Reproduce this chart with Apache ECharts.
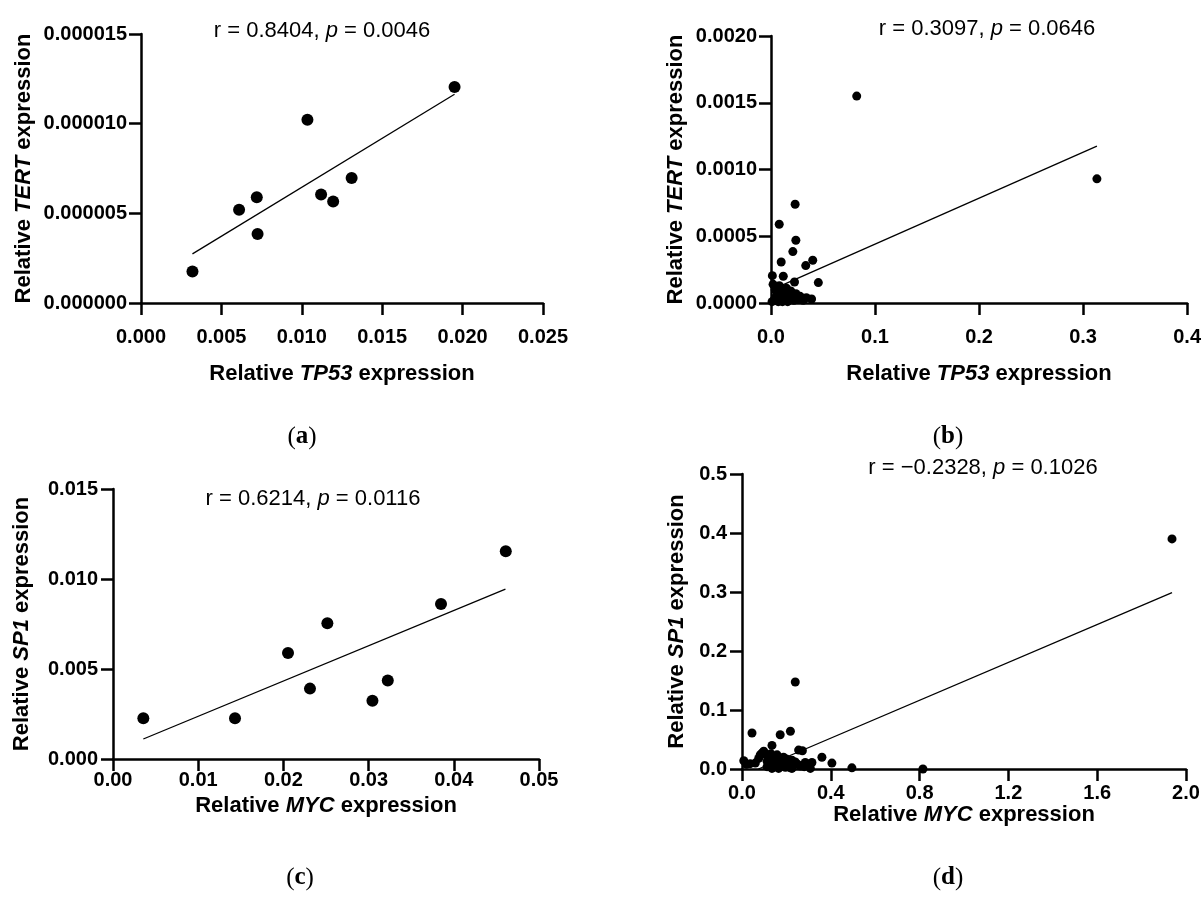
<!DOCTYPE html>
<html><head><meta charset="utf-8">
<script src="https://cdn.jsdelivr.net/npm/echarts@6/dist/echarts.min.js"></script>
<style>html,body{margin:0;padding:0;background:#fff}#c{width:1204px;height:907px}</style>
</head><body><div id="c"></div>
<script>
// ---- Panel (a): TP53 vs TERT (small set)
const aTP53 = [0.0032, 0.0061, 0.0072, 0.00725, 0.01035, 0.0112, 0.01195, 0.0131, 0.0195];
const aTERT = [0.00000175, 0.0000052, 0.0000059, 0.00000385, 0.00001022, 0.00000605, 0.00000566, 0.00000697, 0.00001205];
const aFitX = [0.0032, 0.0195];
const aFitY = [0.00000274, 0.00001164];
const aXTicks = ['0.000', '0.005', '0.010', '0.015', '0.020', '0.025'];
const aYTicks = ['0.000000', '0.000005', '0.000010', '0.000015'];

// ---- Panel (b): TP53 vs TERT (large set)
const bTP53 = [0.0824, 0.3133, 0.0232, 0.0079, 0.0239, 0.021, 0.0098, 0.0401, 0.0334, 0.0455, 0.0013, 0.0118, 0.0226,
  0.002, 0.008, 0.004, 0.012, 0.015, 0.019, 0.024, 0.028, 0.034, 0.039, 0.031, 0.004, 0.010, 0.017, 0.022, 0.006,
  0.013, 0.001, 0.007, 0.016, 0.025, 0.003, 0.011, 0.020];
const bTERT = [0.00155, 0.00093, 0.00074, 0.00059, 0.00047, 0.000385, 0.000307, 0.00032, 0.00028, 0.000153, 0.000205, 0.0002, 0.000157,
  0.00014, 0.00013, 0.0001, 0.0001, 0.00011, 0.00009, 0.00007, 0.00005, 0.00004, 0.00003, 0.00002, 0.00004, 0.00003, 0.00003, 0.00002, 0.00007,
  0.00006, 0.00001, 0.00001, 0.00001, 0.00003, 0.00002, 0.00001, 0.00005];
const bFitX = [0.001, 0.3133];
const bFitY = [0.0001, 0.001175];
const bXTicks = ['0.0', '0.1', '0.2', '0.3', '0.4'];
const bYTicks = ['0.0000', '0.0005', '0.0010', '0.0015', '0.0020'];

// ---- Panel (c): MYC vs SP1 (small set)
const cMYC = [0.00356, 0.01432, 0.02054, 0.02312, 0.02516, 0.03045, 0.03225, 0.0385, 0.0461];
const cSP1 = [0.00226, 0.00226, 0.00589, 0.00391, 0.00754, 0.00324, 0.00436, 0.00861, 0.01154];
const cFitX = [0.00356, 0.04606];
const cFitY = [0.00111, 0.00944];
const cXTicks = ['0.00', '0.01', '0.02', '0.03', '0.04', '0.05'];
const cYTicks = ['0.000', '0.005', '0.010', '0.015'];

// ---- Panel (d): MYC vs SP1 (large set)
const dMYC = [1.937, 0.240, 0.045, 0.172, 0.218, 0.135, 0.098, 0.082, 0.255, 0.272, 0.360, 0.405, 0.495, 0.815,
  0.008, 0.037, 0.075, 0.113, 0.150, 0.158, 0.165, 0.187, 0.203, 0.225, 0.225, 0.187, 0.285, 0.308, 0.263, 0.240,
  0.135, 0.113, 0.150, 0.180, 0.200, 0.130, 0.105, 0.090, 0.158, 0.315, 0.218, 0.020, 0.170, 0.125, 0.195, 0.250,
  0.060, 0.140, 0.210, 0.280];
const dSP1 = [0.390, 0.1475, 0.061, 0.058, 0.064, 0.040, 0.030, 0.024, 0.032, 0.031, 0.020, 0.010, 0.002, 0.000,
  0.014, 0.009, 0.018, 0.013, 0.021, 0.007, 0.001, 0.013, 0.004, 0.001, 0.015, 0.020, 0.011, 0.001, 0.005, 0.012,
  0.001, 0.004, 0.010, 0.008, 0.017, 0.026, 0.025, 0.027, 0.024, 0.011, 0.002, 0.008, 0.016, 0.018, 0.003, 0.008,
  0.010, 0.006, 0.010, 0.004];
const dFitX = [0.074, 1.937];
const dFitY = [0.0, 0.299];
const dXTicks = ['0.0', '0.4', '0.8', '1.2', '1.6', '2.0'];
const dYTicks = ['0.0', '0.1', '0.2', '0.3', '0.4', '0.5'];

const stats = [
  ['0.8404', '0.0046'],
  ['0.3097', '0.0646'],
  ['0.6214', '0.0116'],
  ['\u22120.2328', '0.1026']
];
const panelLabels = ['a', 'b', 'c', 'd'];

const SANS = "'Liberation Sans', Arial, sans-serif";
const SERIF = "'Liberation Serif', 'Times New Roman', serif";

const grids = [
  {left: 141, top: 34, width: 402, height: 269},
  {left: 771, top: 36, width: 419, height: 267},
  {left: 113, top: 489, width: 426, height: 270},
  {left: 742, top: 474, width: 444, height: 295}
];

function richName(pre, gene, post) {
  return '{n|' + pre + '}{i|' + gene + '}{n|' + post + '}';
}
const nameStyle = {
  color: '#000', fontFamily: SANS, fontSize: 22, fontWeight: 'bold',
  rich: {
    n: {color: '#000', fontFamily: SANS, fontSize: 22, fontWeight: 'bold'},
    i: {color: '#000', fontFamily: SANS, fontSize: 22, fontWeight: 'bold', fontStyle: 'italic'}
  }
};

function axis(gi, min, max, interval, ticks, name, nameGap, isY, labelMargin) {
  const a = {
    type: 'value', gridIndex: gi, min: min, max: max, interval: interval,
    name: name, nameLocation: 'middle', nameGap: nameGap, nameTextStyle: nameStyle,
    axisLine: {show: true, onZero: false, lineStyle: {color: '#000', width: 2.5}},
    axisTick: {show: true, inside: false, length: 12, lineStyle: {color: '#000', width: 2.5}},
    axisLabel: {
      color: '#000', fontFamily: SANS, fontSize: 20, fontWeight: 'bold', margin: labelMargin,
      formatter: function (v, i) { return ticks[i] !== undefined ? ticks[i] : ''; },
      showMinLabel: true, showMaxLabel: true
    },
    splitLine: {show: false}
  };
  if (isY) a.nameRotate = 90;
  return a;
}

const xAxes = [
  axis(0, 0, 0.025, 0.005, aXTicks, richName('Relative ', 'TP53', ' expression'), 60, false, 24),
  axis(1, 0, 0.4, 0.1, bXTicks, richName('Relative ', 'TP53', ' expression'), 60, false, 24),
  axis(2, 0, 0.05, 0.01, cXTicks, richName('Relative ', 'MYC', ' expression'), 36, false, 11),
  axis(3, 0, 2.0, 0.4, dXTicks, richName('Relative ', 'MYC', ' expression'), 33, false, 14)
];
const yAxes = [
  axis(0, 0, 0.000015, 0.000005, aYTicks, richName('Relative ', 'TERT', ' expression'), 106, true, 14),
  axis(1, 0, 0.002, 0.0005, bYTicks, richName('Relative ', 'TERT', ' expression'), 84, true, 14),
  axis(2, 0, 0.015, 0.005, cYTicks, richName('Relative ', 'SP1', ' expression'), 80, true, 15),
  axis(3, 0, 0.5, 0.1, dYTicks, richName('Relative ', 'SP1', ' expression'), 54, true, 15)
];

function pairs(xs, ys) { return xs.map(function (x, i) { return [x, ys[i]]; }); }
const sets = [
  [aTP53, aTERT, aFitX, aFitY, 12],
  [bTP53, bTERT, bFitX, bFitY, 9],
  [cMYC, cSP1, cFitX, cFitY, 12],
  [dMYC, dSP1, dFitX, dFitY, 9]
];
const series = [];
sets.forEach(function (s, gi) {
  series.push({
    type: 'line', xAxisIndex: gi, yAxisIndex: gi, data: pairs(s[2], s[3]),
    symbol: 'none', lineStyle: {color: '#000', width: 1.3}, silent: true, z: 2, animation: false
  });
  series.push({
    type: 'scatter', xAxisIndex: gi, yAxisIndex: gi, data: pairs(s[0], s[1]),
    symbol: 'circle', symbolSize: s[4], itemStyle: {color: '#000', opacity: 1}, z: 3, animation: false
  });
});

const statPos = [[322, 31], [987, 29], [313, 499], [983, 468]];
const labelPos = [[302, 437], [948, 437], [300, 878], [948, 878]];
const graphics = [];
stats.forEach(function (st, i) {
  graphics.push({
    type: 'text', x: statPos[i][0], y: statPos[i][1],
    style: {
      text: '{n|r = ' + st[0] + ', }{i|p}{n| = ' + st[1] + '}',
      align: 'center', verticalAlign: 'middle',
      rich: {
        n: {fill: '#000', fontFamily: SANS, fontSize: 22},
        i: {fill: '#000', fontFamily: SANS, fontSize: 22, fontStyle: 'italic'}
      }
    }
  });
});
panelLabels.forEach(function (l, i) {
  graphics.push({
    type: 'text', x: labelPos[i][0], y: labelPos[i][1],
    style: {
      text: '{n|(}{b|' + l + '}{n|)}',
      align: 'center', verticalAlign: 'middle',
      rich: {
        n: {fill: '#000', fontFamily: SERIF, fontSize: 25},
        b: {fill: '#000', fontFamily: SERIF, fontSize: 25, fontWeight: 'bold'}
      }
    }
  });
});

const chart = echarts.init(document.getElementById('c'), null, {renderer: 'canvas'});
chart.setOption({
  backgroundColor: '#fff',
  animation: false,
  grid: grids,
  xAxis: xAxes,
  yAxis: yAxes,
  series: series,
  graphic: graphics
});
</script>
</body></html>
